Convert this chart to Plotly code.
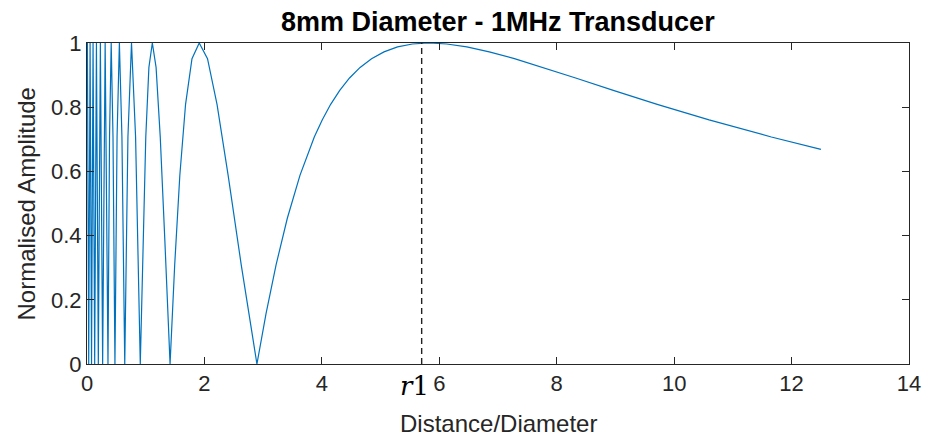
import plotly.graph_objects as go

# Normalised amplitude vs distance/diameter
distance = [0, 0.0070, 0.0292, 0.0526, 0.0771, 0.1032, 0.1310, 0.1608, 0.1929, 0.2279,
            0.2664, 0.3092, 0.3573, 0.3837, 0.4122, 0.4428, 0.4759, 0.5120, 0.5514, 0.5949,
            0.6431, 0.6971, 0.7580, 0.8274, 0.9075, 0.9524, 1.0011, 1.0543, 1.1126, 1.1766,
            1.2476, 1.3264, 1.4148, 1.4937, 1.5811, 1.6786, 1.7879, 1.9114, 2.0525, 2.2147,
            2.4038, 2.6268, 2.8941, 3.0485, 3.2201, 3.4117, 3.6271, 3.8712, 4.0058, 4.1499,
            4.3046, 4.4714, 4.6513, 4.8462, 5.0581, 5.2891, 5.5420, 5.8201, 6.1275, 6.4691,
            6.8508, 7.2800, 7.7666, 8.3225, 8.9638, 9.7117, 10.595, 11.656, 12.5]
amplitude = [0.873, 1, 0, 1, 0, 1, 0, 1, 0, 1,
             0, 1, 0, 0.7071, 1, 0.7071, 0, 0.7071, 1, 0.7071,
             0, 0.7071, 1, 0.7071, 0, 0.3827, 0.7071, 0.9239, 1, 0.9239,
             0.7071, 0.3827, 0, 0.3090, 0.5878, 0.8090, 0.9511, 1, 0.9511, 0.8090,
             0.5878, 0.3090, 0, 0.1564, 0.3090, 0.4540, 0.5878, 0.7071, 0.7604, 0.8090,
             0.8526, 0.8910, 0.9239, 0.9511, 0.9724, 0.9877, 0.9969, 1, 0.9969, 0.9877,
             0.9724, 0.9511, 0.9239, 0.8910, 0.8526, 0.8090, 0.7604, 0.7071, 0.6688]

r1_position = 5.70
x_ticks = [0, 2, 4, 6, 8, 10, 12, 14]
y_ticks = [0, 0.2, 0.4, 0.6, 0.8, 1]
y_tick_labels = ["0", "0.2", "0.4", "0.6", "0.8", "1"]

title_text = "8mm Diameter - 1MHz Transducer"
x_title = "Distance/Diameter"
y_title = "Normalised Amplitude"

AX = "#262626"
FONT = "Liberation Sans, Arial, sans-serif"

fig = go.Figure()
fig.add_trace(go.Scatter(x=distance, y=amplitude, mode="lines",
                         line=dict(color="#0072BD", width=1.2), showlegend=False))
fig.add_trace(go.Scatter(x=[r1_position, r1_position], y=[0, 1], mode="lines",
                         line=dict(color="#222222", width=1.4, dash="6px,4px"),
                         showlegend=False))

fig.update_layout(
    width=933, height=437,
    margin=dict(l=87, r=14, t=43, b=73),
    paper_bgcolor="white", plot_bgcolor="white",
    font=dict(family=FONT, color=AX),
)
fig.update_xaxes(range=[0, 14], tickvals=x_ticks, ticks="inside", ticklen=7,
                 tickcolor=AX, showline=True, linecolor=AX, linewidth=1,
                 mirror="ticks", showgrid=False, zeroline=False,
                 tickfont=dict(size=22, color=AX, family=FONT))
fig.update_yaxes(range=[0, 1], tickvals=y_ticks, ticktext=y_tick_labels,
                 ticks="inside", ticklen=7, tickcolor=AX, showline=True,
                 linecolor=AX, linewidth=1, mirror="ticks", showgrid=False,
                 zeroline=False, tickfont=dict(size=22, color=AX, family=FONT))

fig.add_annotation(text="<b>" + title_text + "</b>", xref="paper", yref="paper",
                   x=0.5, y=1.065, xanchor="center", yanchor="middle", showarrow=False,
                   font=dict(size=27, color="black", family=FONT))
fig.add_annotation(text=x_title, xref="paper", yref="paper", x=0.5, y=-0.185,
                   xanchor="center", yanchor="middle", showarrow=False,
                   font=dict(size=24, color=AX, family=FONT))
fig.add_annotation(text=y_title, xref="paper", yref="paper", x=-0.073, y=0.5,
                   xanchor="center", yanchor="middle", textangle=-90, showarrow=False,
                   font=dict(size=24, color=AX, family=FONT))
fig.add_annotation(text="<i>r</i>1", xref="x", yref="paper", x=5.57, y=-0.07,
                   xanchor="center", yanchor="middle", showarrow=False,
                   font=dict(size=26, color="black", family="DejaVu Serif, Liberation Serif, serif"))

fig.write_html("out.html")
